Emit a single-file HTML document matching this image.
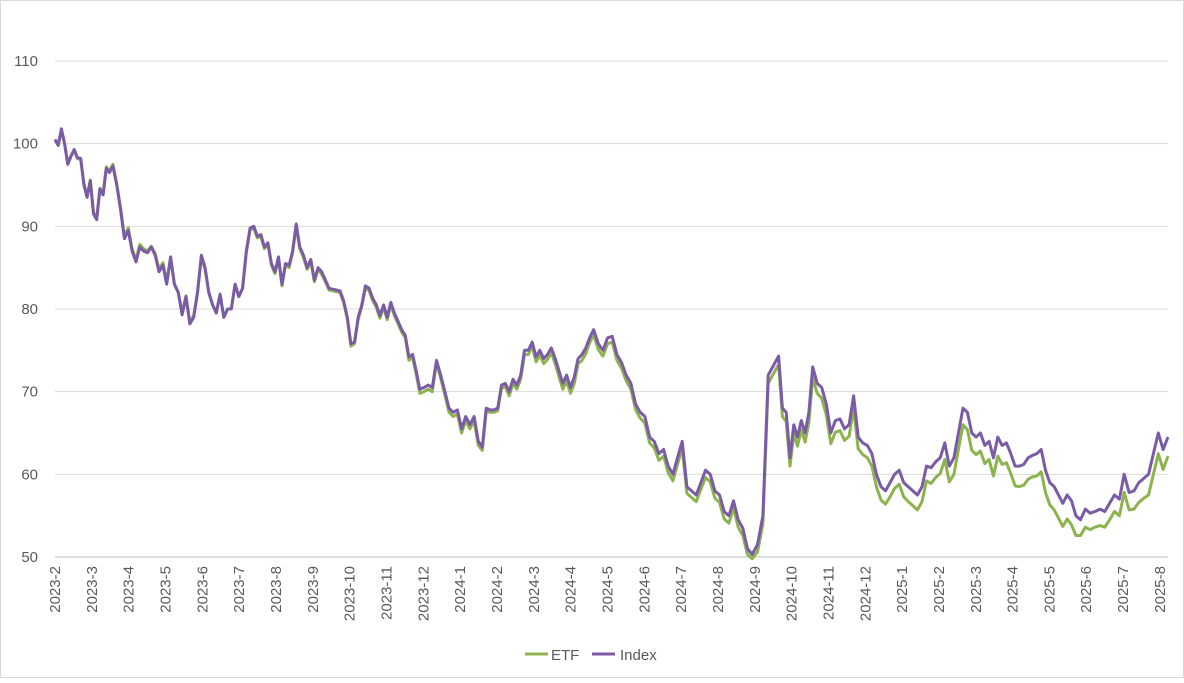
<!DOCTYPE html>
<html><head><meta charset="utf-8"><style>
body{margin:0;background:#fff;font-family:"Liberation Sans",sans-serif}
svg text{font-family:"Liberation Sans",sans-serif;fill:#595959}
</style></head><body>
<svg id="c" width="1184" height="678" xmlns="http://www.w3.org/2000/svg">
<rect x="0.5" y="0.5" width="1183" height="677" fill="#fff" stroke="#d9d9d9"/>
<g id="grid"></g>
<g id="yt"></g>
<g id="xt"></g>
<g id="series"></g>
<g>
<line x1="525" y1="654" x2="548" y2="654" stroke="#8db34e" stroke-width="3"/>
<text x="551" y="660" font-size="15">ETF</text>
<line x1="592" y1="654" x2="615" y2="654" stroke="#7b5ba6" stroke-width="3"/>
<text x="620" y="660" font-size="15">Index</text>
</g>
</svg>
<script>
const yTicks=[50,60,70,80,90,100,110];
const xLabels=["2023-2","2023-3","2023-4","2023-5","2023-6","2023-7","2023-8","2023-9","2023-10","2023-11","2023-12","2024-1","2024-2","2024-3","2024-4","2024-5","2024-6","2024-7","2024-8","2024-9","2024-10","2024-11","2024-12","2025-1","2025-2","2025-3","2025-4","2025-5","2025-6","2025-7","2025-8"];
const indexVals=[100.5,99.8,101.8,100,97.5,98.5,99.3,98.3,98.2,95,93.5,95.5,91.5,90.8,94.5,93.8,97,96.5,97.3,95,92,88.5,89.5,87,85.7,87.5,87,86.8,87.5,86.5,84.5,85.3,83,86.3,83,82,79.3,81.5,78.2,79,82,86.5,85,82,80.5,79.5,81.8,79,80,80,83,81.5,82.5,87,89.8,90,88.8,89,87.5,88,85.5,84.5,86.3,83,85.5,85.3,87,90.3,87.5,86.5,85,86,83.5,85,84.5,83.5,82.5,82.4,82.3,82.2,81,79,75.8,76,79,80.5,82.8,82.5,81.3,80.5,79.2,80.5,79,80.8,79.5,78.5,77.5,76.8,74.2,74.5,72.5,70.3,70.5,70.8,70.5,73.8,72,70,68,67.5,67.8,65.5,67,66,67,64,63.3,68,67.8,67.8,68,70.8,71,70,71.5,70.8,72,75,75,76,74.2,75,74,74.5,75.3,74,72.5,71,72,70.5,71.8,74,74.5,75.3,76.5,77.5,75.8,75,76.5,76.7,74.5,73.5,72,71,68.5,67.5,67,64.5,64,62.5,63,61,60,62,64,58.5,58,57.5,59,60.5,60,58,57.5,55.5,55,56.8,54.5,53.5,51,50.3,51.5,55,72,73.2,74.3,68,67.5,62,66,64.5,66.5,65,67.5,73,71,70.5,68.5,65,66.5,66.7,65.5,66,69.5,64.5,63.8,63.5,62.5,60,58.5,58,59,60,60.5,59,58.5,58,57.5,58.5,61,60.8,61.5,62,63.8,61,62,65,68,67.5,65,64.5,65,63.5,64,62,64.5,63.5,63.8,62.5,61,61,61.2,62,62.3,62.5,63,60.5,59,58.5,57.5,56.5,57.5,56.8,55,54.5,55.8,55.3,55.5,55.8,55.5,56.5,57.5,57,60,57.8,58,59,59.5,60,62.5,65,63,64.5];
const etfVals=[100.5,99.8,101.6,100,97.5,98.5,99.2,98.2,98.1,95.2,93.7,95.6,91.7,91,94.6,94,97.2,96.7,97.5,95.2,92.2,88.8,89.8,87.3,86,87.8,87.3,87,87.6,86.7,84.8,85.6,83.3,86.2,83,82,79.5,81.6,78.4,79.2,82,86.3,84.8,82,80.5,79.6,81.7,79,80,80,83,81.5,82.5,86.8,89.6,89.8,88.6,88.8,87.3,87.8,85.3,84.3,86,82.8,85.3,85,86.8,90,87.3,86.2,84.8,85.7,83.3,84.8,84.2,83.3,82.3,82.2,82.1,82,80.8,78.8,75.5,75.8,78.8,80.3,82.5,82.2,81,80.2,78.9,80.2,78.7,80.5,79.2,78.2,77.2,76.5,73.8,74.1,72.1,69.8,70,70.3,70,73.5,71.6,69.6,67.5,67,67.3,65,66.5,65.5,66.5,63.5,62.9,67.6,67.5,67.5,67.7,70.4,70.6,69.5,71,70.3,71.5,74.5,74.5,75.5,73.6,74.4,73.4,73.9,74.7,73.4,71.8,70.3,71.3,69.8,71,73.4,73.8,74.6,75.9,76.9,75.1,74.3,75.8,76,73.8,72.8,71.3,70.3,67.8,66.8,66.2,63.8,63.2,61.7,62.2,60.2,59.2,61.2,63.2,57.7,57.2,56.7,58.2,59.6,59.1,57.1,56.6,54.6,54.1,55.9,53.6,52.6,50.3,49.8,50.6,54,71,72.2,73.3,67,66.4,61,64.9,63.4,65.4,63.9,66.3,71.7,69.8,69.2,67.2,63.7,65.1,65.3,64.1,64.6,68,63.1,62.4,62,61,58.5,56.9,56.4,57.3,58.3,58.8,57.3,56.7,56.2,55.7,56.7,59.2,58.9,59.6,60.1,61.8,59.1,60,63,66,65.4,62.9,62.4,62.8,61.3,61.8,59.8,62.2,61.2,61.4,60.1,58.6,58.5,58.7,59.4,59.7,59.8,60.3,57.8,56.3,55.7,54.7,53.7,54.6,53.9,52.6,52.6,53.6,53.3,53.6,53.8,53.6,54.5,55.5,55,57.8,55.7,55.8,56.6,57.1,57.5,60,62.5,60.6,62.2];
const NS="http://www.w3.org/2000/svg";
const x0=55,x1=1168,yTop=61,yBot=557,vMin=50,vMax=110;
const yS=v=>yBot-(v-vMin)/(vMax-vMin)*(yBot-yTop);
const labStep=36.83;
const xL=i=>x0+i*labStep;
// time warp for uneven trading-day spacing
const warp=[[55,55],[128,112],[223,201],[280,253],[330,296],[393,352],[470,420],[530,481],[650,593],[790,752],[810,778],[848,813],[985,965],[1092,1078],[1168,1168]];
function wx(x){for(let k=1;k<warp.length;k++){const a=warp[k-1],b=warp[k];if(x<=b[0])return a[1]+(x-a[0])*(b[1]-a[1])/(b[0]-a[0]);}return x;}
const xP=(i,n)=>wx(x0+i*(x1-x0)/(n-1));
function mk(tag,attrs,parent){const e=document.createElementNS(NS,tag);for(const k in attrs)e.setAttribute(k,attrs[k]);parent.appendChild(e);return e;}
const grid=document.getElementById('grid'),yt=document.getElementById('yt'),xt=document.getElementById('xt'),ser=document.getElementById('series');
yTicks.forEach(v=>{
 const l=mk('line',{x1:x0,x2:x1,y1:yS(v),y2:yS(v),stroke:v===vMin?'#bfbfbf':'#d9d9d9','stroke-width':1},grid);
 
 
 const t=mk('text',{x:38,y:yS(v)+5,'font-size':15,'text-anchor':'end'},yt);
 t.textContent=v;
 
 
});
xLabels.forEach((s,i)=>{
 const x=xL(i);
 const t=mk('text',{x:0,y:0,'font-size':15,'text-anchor':'end',transform:`translate(${x+5},566) rotate(-90)`},xt);
 t.textContent=s;
 
 
});
function line(vals,color,name){
 const d=vals.map((v,i)=>(i?'L':'M')+xP(i,vals.length).toFixed(1)+','+yS(v).toFixed(1)).join('');
 const p=mk('path',{d:d,fill:'none',stroke:color,'stroke-width':3,'stroke-linejoin':'round'},ser);
 
 
}
line(etfVals,'#8db34e','etf-line');
line(indexVals,'#7b5ba6','index-line');
</script>
</body></html>
